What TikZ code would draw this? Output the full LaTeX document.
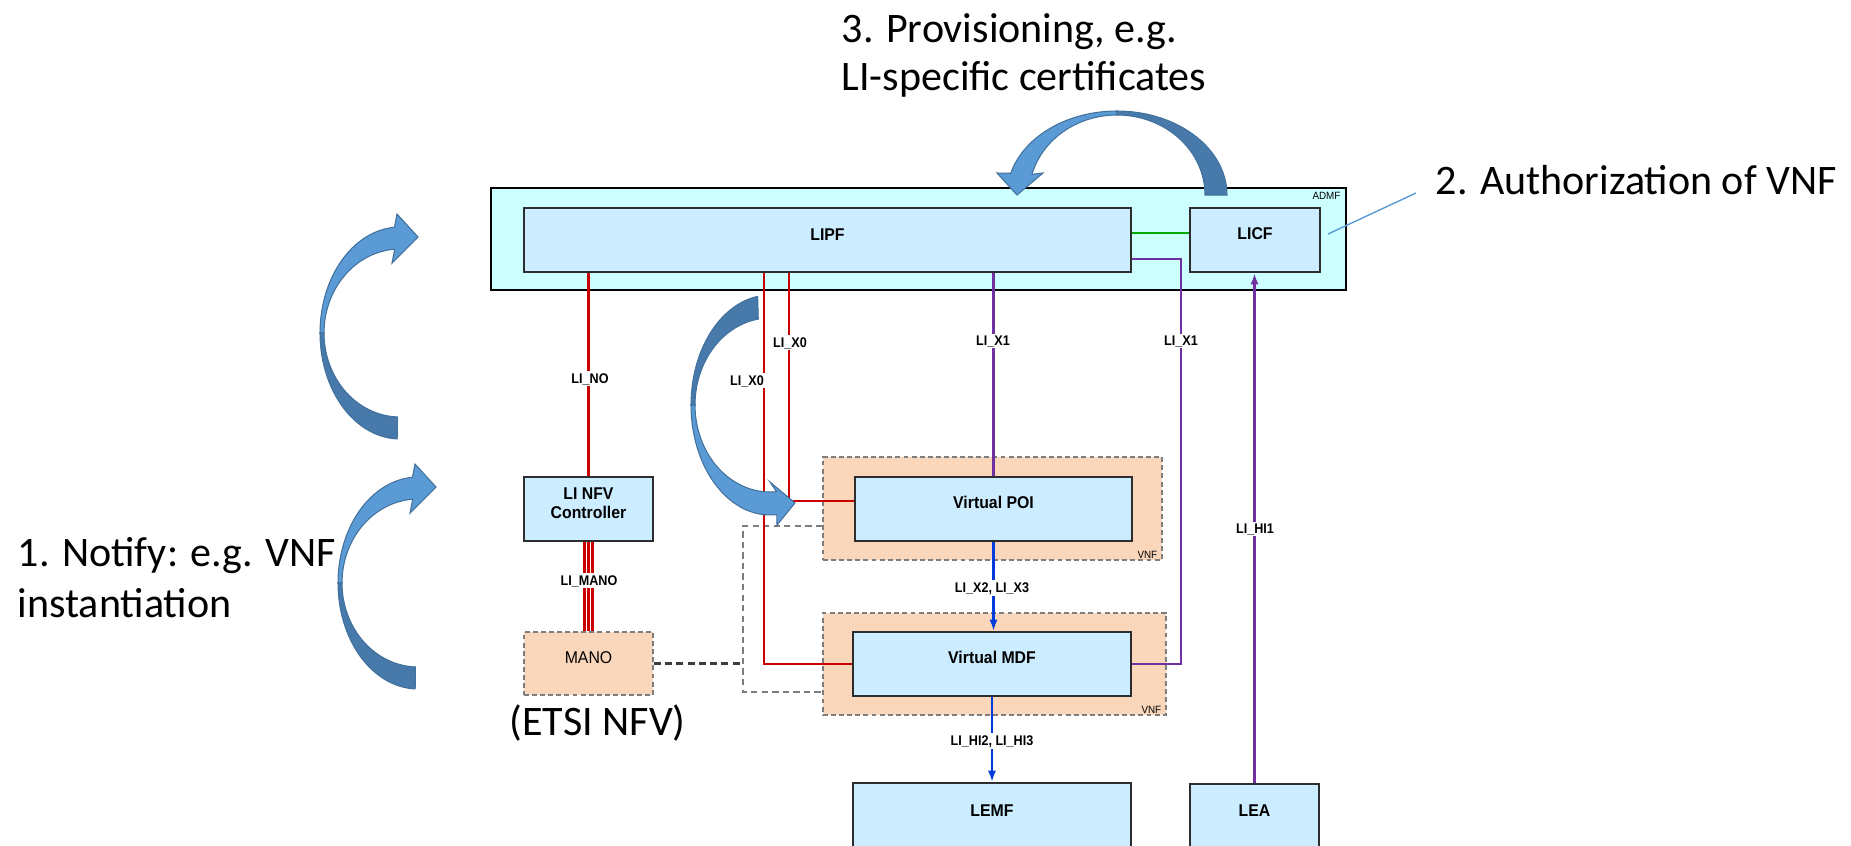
\documentclass[tikz,border=0pt]{standalone}
\usepackage{fontspec}
\setmainfont{Carlito}
\newfontfamily\boxface{Liberation Sans}[FakeStretch=0.93]
\newfontfamily\ifaceface{Liberation Sans}[FakeStretch=0.9]
\usetikzlibrary{arrows.meta,fit}

\definecolor{admfcyan}{RGB}{204,255,255}
\definecolor{boxblue}{RGB}{204,236,255}
\definecolor{peach}{RGB}{250,214,186}
\definecolor{edgegray}{RGB}{45,45,45}
\definecolor{dashgray}{RGB}{125,125,125}
\definecolor{manogray}{RGB}{60,60,60}
\definecolor{lired}{RGB}{204,0,0}
\definecolor{lipurple}{RGB}{112,48,160}
\definecolor{liblue}{RGB}{0,60,220}
\definecolor{ligreen}{RGB}{0,170,0}
\definecolor{faceLight}{RGB}{91,155,213}
\definecolor{faceDark}{RGB}{71,122,170}
\definecolor{faceEdge}{RGB}{65,113,156}

\tikzset{
  fnbox/.style={draw=edgegray, line width=0.6pt, fill=boxblue, inner sep=0pt,
    align=center, font=\boxface\bfseries\fontsize{4.84}{5.4}\selectfont},
  admfbox/.style={draw=black, line width=0.6pt, fill=admfcyan, inner sep=0pt},
  vnfbox/.style={draw=dashgray, line width=0.5pt, dash pattern=on 1.4pt off 0.9pt,
    fill=peach, inner sep=0pt},
  tag/.style={inner sep=0pt, font=\boxface\fontsize{3}{3.6}\selectfont},
  iflabel/.style={fill=white, inner sep=0.5pt, anchor=base,
    font=\ifaceface\bfseries\fontsize{3.98}{4.8}\selectfont},
  redl/.style={draw=lired, line width=0.65pt},
  purplel/.style={draw=lipurple, line width=0.7pt},
  bluel/.style={draw=liblue, line width=0.6pt},
  greenl/.style={draw=ligreen, line width=0.7pt},
  tipend/.style={-{Latex[length=3.2pt,width=2.3pt]}},
  graydash/.style={draw=dashgray, line width=0.6pt, dash pattern=on 1.8pt off 1.2pt},
  manodash/.style={draw=manogray, line width=0.6pt, dash pattern=on 2pt off 1.2pt},
  callout/.style={draw=faceLight, line width=0.4pt},
  bigtext/.style={inner sep=0pt, anchor=base west, font=\fontsize{11.95}{14.5}\selectfont},
  lightface/.style={fill=faceLight, draw=faceEdge, line width=0.3pt},
  darkface/.style={fill=faceDark, draw=faceEdge, line width=0.3pt},
}

\begin{document}
\begin{tikzpicture}[x=0.01cm, y=-0.01cm]
\clip (0,0) rectangle (1851,845);

% ADMF with its two functions
\node[admfbox, fit={(491,188) (1346,290)}] (admf) {};
\node[tag, anchor=north east] (admftag) at ([xshift=-0.06cm,yshift=-0.05cm]admf.north east) {ADMF};
\node[fnbox, fit={(524,208) (1131,272)}] (lipf) {LIPF};
\node[fnbox, fit={(1190,208) (1320,272)}] (licf) {LICF};

% VNF containers and MANO
\node[vnfbox, fit={(823,457) (1162,560)}] (vnf1) {};
\node[vnfbox, fit={(823,613) (1166,715)}] (vnf2) {};
\node[tag, anchor=south east] (vnftag1) at ([xshift=-0.05cm,yshift=0.02cm]vnf1.south east) {VNF};
\node[tag, anchor=south east] (vnftag2) at ([xshift=-0.05cm,yshift=0.02cm]vnf2.south east) {VNF};
\node[vnfbox, fit={(524,632) (653,695)}, font=\boxface\fontsize{4.84}{5.4}\selectfont] (mano) {MANO};

% dashed grouping of the two VNFs towards MANO
\coordinate (gleft) at (743,600);
\draw[graydash] ([yshift=-0.175cm]vnf1.west) -| (gleft) |- ([yshift=-0.28cm]vnf2.west);
\draw[manodash] (mano.east) -- (mano.east -| gleft);

% functional boxes
\node[fnbox, fit={(524,477) (653,541)}] (nfv) {LI NFV\\Controller};
\node[fnbox, fit={(855,477) (1132,541)}] (poi) {Virtual POI};
\node[fnbox, fit={(853,632) (1131,696)}] (mdf) {Virtual MDF};
\node[fnbox, fit={(853,783) (1131,849)}] (lemf) {LEMF};
\node[fnbox, fit={(1190,784) (1319,849)}] (lea) {LEA};

% interfaces
\draw[greenl] ([yshift=0.07cm]licf.west) -- ([yshift=0.07cm]licf.west -| lipf.east);
\draw[redl] (nfv.north) -- (nfv.north |- lipf.south);
\draw[redl] (mdf.west) -| ([xshift=2.41cm]lipf.south west);
\draw[redl] ([yshift=0.08cm]poi.west) -| ([xshift=2.66cm]lipf.south west);
\foreach \dx in {-0.04,0,0.04}
  \draw[redl, line width=0.6pt] ([xshift=\dx cm]nfv.south) -- ([xshift=\dx cm]mano.north);
\draw[purplel] (poi.north) -- (poi.north |- lipf.south);
\coordinate (x1turn) at (1181,259);
\draw[purplel] (mdf.east) -| (x1turn) -- (x1turn -| lipf.east);
\draw[purplel, tipend] (lea.north) -- (lea.north |- licf.south);
\draw[bluel, tipend] (poi.south) -- (poi.south |- mdf.north);
\draw[bluel, tipend] (mdf.south) -- (mdf.south |- lemf.north);

% interface names
\node[iflabel] (lno) at (590,383) {LI\_NO};
\node[iflabel] (lx0a) at (747,385) {LI\_X0};
\node[iflabel] (lx0b) at (790,347) {LI\_X0};
\node[iflabel] (lx1a) at (993,345) {LI\_X1};
\node[iflabel] (lx1b) at (1181,345) {LI\_X1};
\node[iflabel] (lhi1) at (1255,533) {LI\_HI1};
\node[iflabel] (lmano) at (589,585) {LI\_MANO};
\node[iflabel] (lx23) at (992,592) {LI\_X2, LI\_X3};
\node[iflabel] (lhi23) at (992,745) {LI\_HI2, LI\_HI3};

% step annotations
\node[bigtext, font=\fontsize{11.95}{13.9}\selectfont] (prov) at (841,42)
  {\begin{tabular}[t]{@{}l@{}}3. Provisioning, e.g.\\LI-specific certificates\end{tabular}};
\node[bigtext] (auth) at (1435,194) {2. Authorization of VNF};
\node[bigtext] (notify) at (17,566)
  {\begin{tabular}[t]{@{}l@{}}1. Notify: e.g. VNF\\instantiation\end{tabular}};
\node[bigtext] (etsi) at (509,735) {(ETSI NFV)};
\coordinate (authpt) at (1328,234);
\draw[callout] (authpt) -- ([xshift=-0.19cm,yshift=0.01cm]auth.base west);

% curved block arrows: notification steps on the left
\foreach \cx/\cy in {400/333, 418/583} {
  \begin{scope}[shift={(\cx,\cy)}]
    \filldraw[darkface] plot[domain=92:180, samples=30] ({80*cos(\x)},{106*sin(\x)})
      -- plot[domain=180:92, samples=30] ({76*cos(\x)},{84*sin(\x)}) -- cycle;
    \filldraw[lightface] plot[domain=180:266, samples=30] ({80*cos(\x)},{106*sin(\x)})
      -- (-3,-119) -- (18,-96) -- (-8,-70)
      -- plot[domain=266:180, samples=30] ({76*cos(\x)},{84*sin(\x)}) -- cycle;
  \end{scope}
}

% curved block arrow towards the virtual POI
\begin{scope}[shift={(770,405)}]
  \filldraw[darkface] plot[domain=261:180, samples=30] ({79*cos(\x)},{110*sin(\x)})
    -- plot[domain=180:261, samples=30] ({75*cos(\x)},{87*sin(\x)}) -- cycle;
  \filldraw[lightface] plot[domain=180:85, samples=30] ({79*cos(\x)},{110*sin(\x)})
    -- (7,120) -- (25,98) -- (0,77)
    -- plot[domain=85:180, samples=30] ({75*cos(\x)},{87*sin(\x)}) -- cycle;
\end{scope}

% curved block arrow from LICF back to LIPF
\begin{scope}[shift={(1117,195)}]
  \filldraw[darkface] plot[domain=-90:0, samples=30] ({110*cos(\x)},{84*sin(\x)})
    -- plot[domain=0:-90, samples=30] ({88*cos(\x)},{80*sin(\x)}) -- cycle;
  \filldraw[lightface] plot[domain=-90:-165, samples=30] ({110*cos(\x)},{84*sin(\x)})
    -- (-120,-22) -- (-100,0) -- (-74,-22)
    -- plot[domain=-165:-90, samples=30] ({88*cos(\x)},{80*sin(\x)}) -- cycle;
\end{scope}
\end{tikzpicture}
\end{document}
